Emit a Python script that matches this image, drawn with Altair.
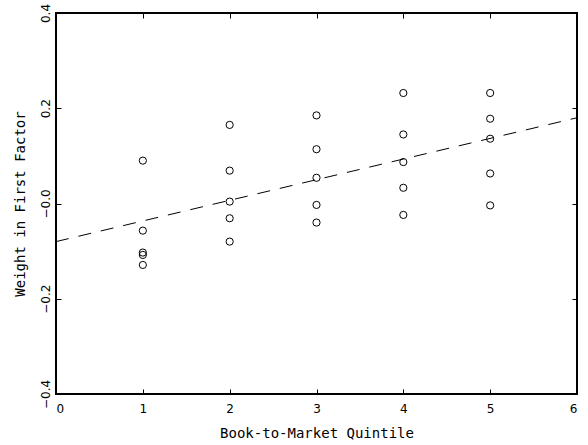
import altair as alt
import pandas as pd

# Data
quintile = [1]*5 + [2]*5 + [3]*5 + [4]*5 + [5]*5
weight = [
    0.090, -0.057, -0.103, -0.108, -0.129,
    0.165, 0.069, 0.004, -0.031, -0.080,
    0.185, 0.114, 0.054, -0.003, -0.040,
    0.232, 0.145, 0.087, 0.033, -0.024,
    0.232, 0.178, 0.136, 0.063, -0.004,
]
fit_x = [0, 6]
fit_y = [-0.080, 0.180]

x_ticks = [0, 1, 2, 3, 4, 5, 6]
y_ticks = [-0.4, -0.2, 0.0, 0.2, 0.4]

pts = pd.DataFrame({"q": quintile, "w": weight})
fit = pd.DataFrame({"q": fit_x, "w": fit_y})

W, H = 521, 381
LFONT = "DejaVu Sans"
TFONT = "DejaVu Sans Mono"

xscale = alt.Scale(domain=[0, 6], nice=False, zero=False)
yscale = alt.Scale(domain=[-0.4, 0.4], nice=False, zero=False)

ylabel_expr = "datum.value > 0.001 ? format(datum.value, '.1f') : '\u2212' + format(abs(datum.value), '.1f')"

# Main layer: labelled axes (no ticks)
points = alt.Chart(pts).mark_point(
    shape="circle", filled=False, color="black", strokeWidth=1, size=52, opacity=1
).encode(
    x=alt.X("q:Q", scale=xscale, axis=alt.Axis(
        orient="bottom", values=x_ticks, ticks=False, domain=False, grid=False,
        title="Book-to-Market Quintile", labelPadding=9, titlePadding=12,
        labelFont=LFONT, titleFont=TFONT, labelFontSize=12, titleFontSize=14,
        titleFontWeight="normal", labelColor="black", titleColor="black")),
    y=alt.Y("w:Q", scale=yscale, axis=alt.Axis(
        orient="left", values=y_ticks, ticks=False, domain=False, grid=False,
        labelExpr=ylabel_expr, labelAngle=270, labelPadding=4, titlePadding=12,
        title="Weight in First Factor",
        labelFont=LFONT, titleFont=TFONT, labelFontSize=12, titleFontSize=14,
        titleFontWeight="normal", labelColor="black", titleColor="black")),
)

# Fitted dashed line, carrying inward ticks at bottom & left edges
line = alt.Chart(fit).mark_line(
    color="black", strokeWidth=1, strokeDash=[13, 10]
).encode(
    x=alt.X("q:Q", scale=xscale, axis=alt.Axis(
        orient="top", offset=-H, values=x_ticks, labels=False, domain=False,
        grid=False, title=None, tickSize=5, tickColor="black", tickWidth=1)),
    y=alt.Y("w:Q", scale=yscale, axis=alt.Axis(
        orient="right", offset=-W, values=y_ticks, labels=False, domain=False,
        grid=False, title=None, tickSize=5, tickColor="black", tickWidth=1)),
)

# Invisible layer carrying inward ticks at top & right edges
ghost = alt.Chart(fit).mark_point(opacity=0).encode(
    x=alt.X("q:Q", scale=xscale, axis=alt.Axis(
        orient="bottom", offset=-H, values=x_ticks, labels=False, domain=False,
        grid=False, title=None, tickSize=5, tickColor="black", tickWidth=1)),
    y=alt.Y("w:Q", scale=yscale, axis=alt.Axis(
        orient="left", offset=-W, values=y_ticks, labels=False, domain=False,
        grid=False, title=None, tickSize=5, tickColor="black", tickWidth=1)),
)

chart = alt.layer(points, line, ghost).resolve_axis(
    x="independent", y="independent"
).resolve_scale(x="shared", y="shared").properties(
    width=W, height=H,
    autosize=alt.AutoSizeParams(type="none"),
    padding={"left": 56, "top": 13, "right": 11, "bottom": 51},
    background="white",
).configure_view(stroke="black", strokeWidth=2)

chart.save("out.html", embed_options={"renderer": "svg", "actions": False})
